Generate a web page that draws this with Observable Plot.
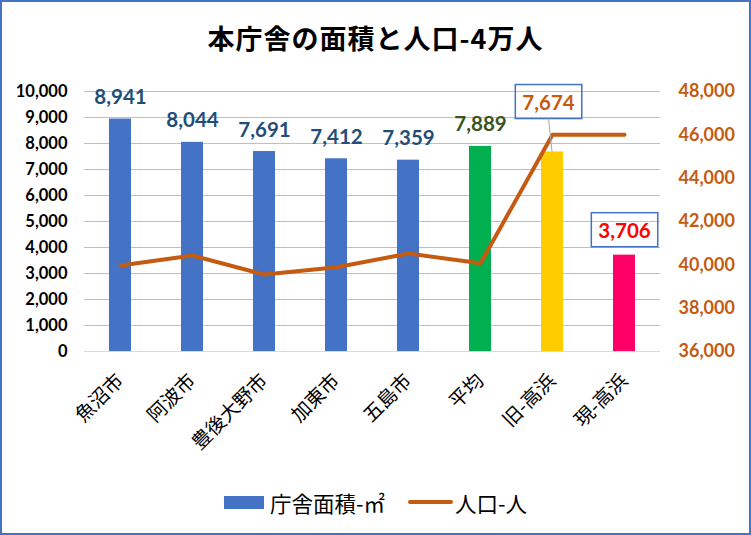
<!DOCTYPE html>
<html>
<head>
<meta charset="utf-8">
<script src="https://cdn.jsdelivr.net/npm/d3@7"></script>
<script src="https://cdn.jsdelivr.net/npm/@observablehq/plot@0.6"></script>
<style>
  body { margin: 0; background: #fff; }
  #wrap { position: relative; width: 751px; height: 535px; background: #fff; overflow: hidden; }
  #title { position: absolute; left: 0; top: 18px; width: 751px; text-align: center; line-height: 40px;
    font-family: "Noto Sans CJK JP", sans-serif; font-weight: bold; font-size: 27px; letter-spacing: 1px; color: #000; }
  #chart { position: absolute; left: 0; top: 0; }
  #legend { position: absolute; left: 224px; top: 488px; height: 28px; display: flex; align-items: center;
    font-family: "Noto Sans CJK JP", sans-serif; font-size: 21.5px; color: #000; }
  #frame { position: absolute; inset: 0; border: 2px solid #4472C4; box-sizing: border-box; pointer-events: none; z-index: 5; }
</style>
</head>
<body>
<div id="wrap">
  <div id="title">本庁舎の面積と人口-4万人</div>
  <div id="chart"></div>
  <div id="legend">
    <span style="display:inline-block;width:40px;height:13px;background:#4472C4;"></span>
    <span style="margin-left:6px;">庁舎面積-㎡</span>
    <span style="display:inline-block;width:45px;height:4px;border-radius:2px;background:#C55A11;margin-left:23px;"></span>
    <span style="margin-left:2px;">人口-人</span>
  </div>
  <div id="frame"></div>
</div>
<script>
const categories = ["魚沼市", "阿波市", "豊後大野市", "加東市", "五島市", "平均", "旧-高浜", "現-高浜"];
const area = [8941, 8044, 7691, 7412, 7359, 7889, 7674, 3706];
const population = [39970, 40430, 39550, 39890, 40520, 40070, 46000, 46000];
const barColors = ["#4472C4", "#4472C4", "#4472C4", "#4472C4", "#4472C4", "#00B050", "#FFCC00", "#FF0066"];
const labelColors = ["#1F4E79", "#1F4E79", "#1F4E79", "#1F4E79", "#1F4E79", "#375623", "#C55A11", "#FF0000"];
const leftTicks = [0, 1000, 2000, 3000, 4000, 5000, 6000, 7000, 8000, 9000, 10000];
const rightTicks = [36000, 38000, 40000, 42000, 44000, 46000, 48000];

const popMin = 36000, popMax = 48000, areaMax = 10000;
const toY = p => (p - popMin) / (popMax - popMin) * areaMax;
const fromY = v => Math.round(popMin + v / areaMax * (popMax - popMin));

const data = categories.map((c, i) => ({
  cat: c, area: area[i], pop: population[i], popY: toY(population[i]),
  bar: barColors[i], lab: labelColors[i], i
}));
const fmt = d3.format(",");
const numFont = "Lato, 'Open Sans', sans-serif";
const jpFont = "'Noto Sans CJK JP', sans-serif";

const plain = data.filter(d => d.i < 6);
const boxedA = data.filter(d => d.i === 6);
const boxedB = data.filter(d => d.i === 7);

const W = 751, H = 480;
const plot = Plot.plot({
  width: W, height: H,
  marginTop: 91, marginBottom: H - 351, marginLeft: 84, marginRight: 91,
  style: { background: "transparent", overflow: "visible" },
  x: { domain: categories, paddingInner: 0.694, paddingOuter: 0.347, label: null },
  y: { domain: [0, areaMax], label: null },
  color: { type: "identity" },
  marks: [
    Plot.gridY(leftTicks, { stroke: "#F4B183", strokeOpacity: 1, strokeWidth: 1 }),
    Plot.ruleY([0], { stroke: "#D9D9D9", strokeWidth: 1.2 }),
    Plot.barY(data, { x: "cat", y: "area", fill: "bar" }),
    Plot.line(data, { x: "cat", y: "popY", stroke: "#C55A11", strokeWidth: 4, strokeLinejoin: "round", strokeLinecap: "round" }),
    Plot.text(plain, { x: "cat", y: "area", text: d => fmt(d.area), fill: "lab", dy: -21.5,
      fontSize: 20.5, fontWeight: "bold", fontFamily: numFont }),
    Plot.text(boxedA, { x: "cat", y: "area", text: d => fmt(d.area), fill: "lab", dy: -49, dx: -4,
      fontSize: 20.5, fontWeight: "bold", fontFamily: numFont }),
    Plot.text(boxedB, { x: "cat", y: "area", text: d => fmt(d.area), fill: "lab", dy: -24,
      fontSize: 20.5, fontWeight: "bold", fontFamily: numFont }),
    Plot.axisY({ ticks: leftTicks, tickSize: 0, tickPadding: 17, tickFormat: fmt, label: null,
      fontSize: 16.5, fontWeight: "bold", fontFamily: numFont, fill: "#000" }),
    Plot.axisY({ anchor: "right", ticks: rightTicks.map(toY), tickSize: 0, tickPadding: 18,
      tickFormat: v => fmt(fromY(v)), label: null,
      fontSize: 18, fontWeight: "bold", fontFamily: numFont, fill: "#C55A11" }),
    Plot.axisX({ tickRotate: -45, tickSize: 0, tickPadding: 26, label: null,
      fontSize: 19.5, fontFamily: jpFont, fill: "#000" })
  ]
});
document.getElementById("chart").appendChild(plot);

// boxes around the two highlighted labels and the leader line
const ns = "http://www.w3.org/2000/svg";
const xs = plot.scale("x"), ys = plot.scale("y");
function boxFor(label, padX, padY) {
  const t = Array.from(plot.querySelectorAll("text")).find(n => n.textContent === label);
  if (!t) return null;
  const bb = t.getBBox();
  const ctm = t.getCTM(), sctm = plot.getCTM();
  const p = plot.createSVGPoint();
  p.x = bb.x; p.y = bb.y;
  const m = sctm.inverse().multiply(ctm);
  const p1 = p.matrixTransform(m);
  const r = document.createElementNS(ns, "rect");
  const x = p1.x - padX, y = p1.y - padY, w = bb.width + 2 * padX, h = bb.height + 2 * padY;
  r.setAttribute("x", x); r.setAttribute("y", y);
  r.setAttribute("width", w); r.setAttribute("height", h);
  r.setAttribute("fill", "none"); r.setAttribute("stroke", "#4472C4"); r.setAttribute("stroke-width", 1.5);
  plot.appendChild(r);
  return { x, y, w, h };
}
const bA = boxFor(fmt(area[6]), 7, 5);
boxFor(fmt(area[7]), 7, 5);
if (bA) {
  const l = document.createElementNS(ns, "line");
  l.setAttribute("x1", bA.x + bA.w / 2); l.setAttribute("y1", bA.y + bA.h);
  l.setAttribute("x2", xs.apply(categories[6]) + xs.bandwidth / 2); l.setAttribute("y2", ys.apply(area[6]));
  l.setAttribute("stroke", "#A6A6A6"); l.setAttribute("stroke-width", 1);
  plot.appendChild(l);
}
</script>
</body>
</html>
